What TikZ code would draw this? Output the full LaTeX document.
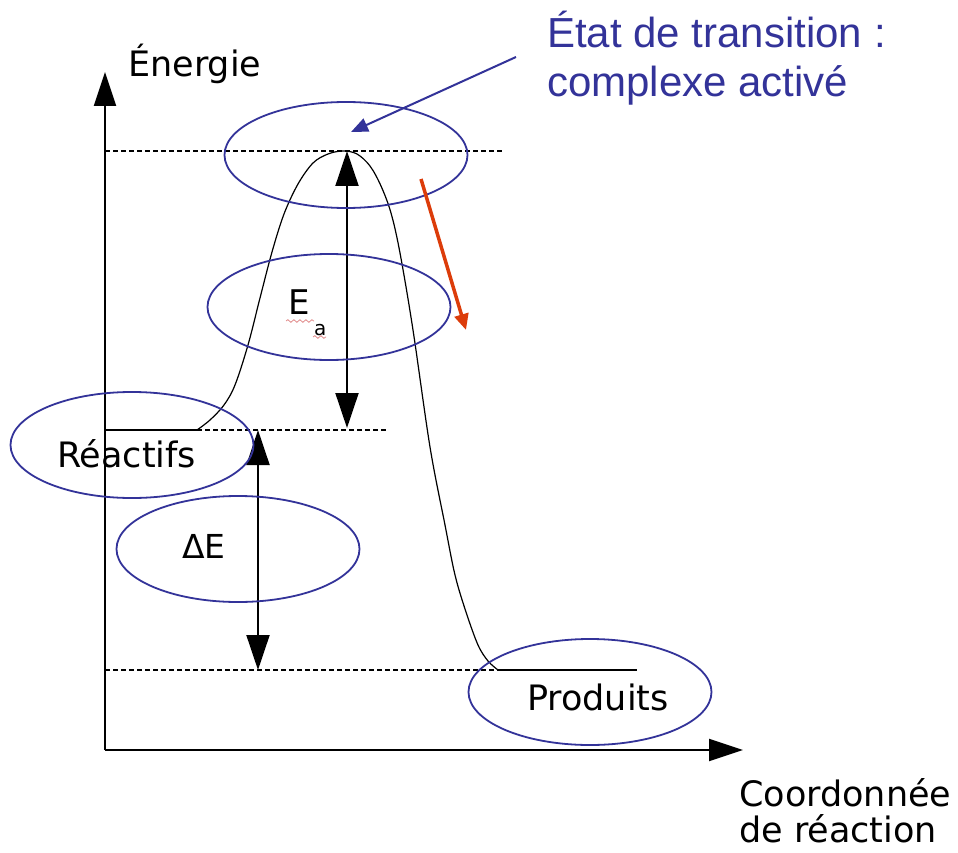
\documentclass[tikz,border=0pt]{standalone}
\usepackage{fontspec}
\setmainfont{DejaVu Sans}
\newfontfamily\bluefont{Liberation Sans}
\usetikzlibrary{arrows.meta,shapes.geometric,decorations.pathmorphing}
\definecolor{dblue}{RGB}{51,51,153}
\definecolor{dred}{RGB}{220,60,10}
\definecolor{wavypink}{RGB}{225,140,140}
\begin{document}
\begin{tikzpicture}[x=1pt,y=-1pt,
  lbl/.style={inner sep=0pt, anchor=base west, font=\fontsize{35}{42}\selectfont},
  bluelbl/.style={inner sep=0pt, anchor=base west, text=dblue, font=\bluefont\fontsize{42}{48}\selectfont},
  oval/.style={draw=dblue, line width=1.8pt, ellipse, minimum width=243pt, minimum height=106pt, inner sep=0pt},
  axisline/.style={line width=2pt, -{Triangle[length=34pt,width=22pt]}},
  dblarrow/.style={line width=2pt, {Triangle[length=35pt,width=23pt]}-{Triangle[length=35pt,width=23pt]}},
  guide/.style={line width=1.2pt, dash pattern=on 5pt off 3pt},
  solidlevel/.style={line width=1.4pt},
  wavyline/.style={draw=wavypink, line width=0.8pt, decorate, decoration={snake, segment length=6pt, amplitude=1.3pt}}
]
\useasboundingbox (0,0) rectangle (958,853);

% axes
\coordinate (O) at (105,750);
\coordinate (ytip) at (105,72);
\coordinate (xtip) at (743,750);
\draw[axisline] (O) -- (ytip);
\draw[axisline] (O) -- (xtip);

% levels
\coordinate (R0) at (105,430);
\coordinate (R1) at (197,430);
\coordinate (R2) at (388,430);
\coordinate (P0) at (105,670);
\coordinate (P1) at (498,670);
\coordinate (P2) at (637,670);
\coordinate (T0) at (105,151);
\coordinate (T1) at (503,151);
\draw[solidlevel] (R0) -- (R1);
\draw[guide] (R1) -- (R2);
\draw[guide] (P0) -- (P1);
\draw[solidlevel] (P1) -- (P2);
\draw[guide] (T0) -- (T1);

% energy curve
\draw[line width=1.2pt] plot[smooth, tension=0.55] coordinates {
  (197,430) (210,420) (224,405) (235,385) (248,345) (260,298) (272,252)
  (284,214) (298,184) (313,163) (328,154) (343,151) (357,154) (370,166)
  (381,186) (391,213) (400,253) (413,330) (430,447) (445,525) (455,575)
  (466,612) (478,645) (488,661) (498,670)};

% Ea and Delta E arrows
\coordinate (EaT) at (347,151);
\coordinate (EaB) at (347,428);
\draw[dblarrow] (EaT) -- (EaB);
\coordinate (DeT) at (258,430);
\coordinate (DeB) at (258,670);
\draw[dblarrow] (DeT) -- (DeB);

% ellipses
\node[oval] (eTS) at (346,155) {};
\node[oval] (eEa) at (329,307) {};
\node[oval] (eR)  at (132,445) {};
\node[oval] (eDE) at (238,549) {};
\node[oval] (eP)  at (590,692) {};

% labels
\node[lbl] (energie) at (128,77) {Énergie};
\node[lbl] (reactifs) at (57,467) {Réactifs};
\node[lbl, font=\fontsize{33}{40}\selectfont] (dE) at (182,558) {ΔE};
\node[lbl, font=\fontsize{34}{40}\selectfont] (Ea) at (288,314) {E};
\node[lbl, font=\fontsize{20}{24}\selectfont] (Eaidx) at (314,335) {a};
\node[lbl] (produits) at (527,710) {Produits};
\node[lbl] (coord1) at (739,806) {Coordonnée};
\node[lbl] (coord2) at (739,842) {de réaction};
\node[bluelbl] (ts1) at (547,48) {État de transition :};
\node[bluelbl] (ts2) at (547,97) {complexe activé};

% spell-check wavy underlines
\coordinate (w1a) at (286,321);
\coordinate (w1b) at (314,321);
\coordinate (w2a) at (313,337);
\coordinate (w2b) at (326,337);
\draw[wavyline] (w1a) -- (w1b);
\draw[wavyline] (w2a) -- (w2b);

% blue pointer
\coordinate (bstart) at (516,57);
\coordinate (btip) at (351,132);
\draw[dblue, line width=2pt, -{Triangle[length=17pt,width=14pt]}] (bstart) -- (btip);

% red arrow
\coordinate (rstart) at (421,179);
\coordinate (rtip) at (466,330);
\draw[dred, line width=3.5pt, -{Triangle[length=16pt,width=14pt]}] (rstart) -- (rtip);
\end{tikzpicture}
\end{document}
